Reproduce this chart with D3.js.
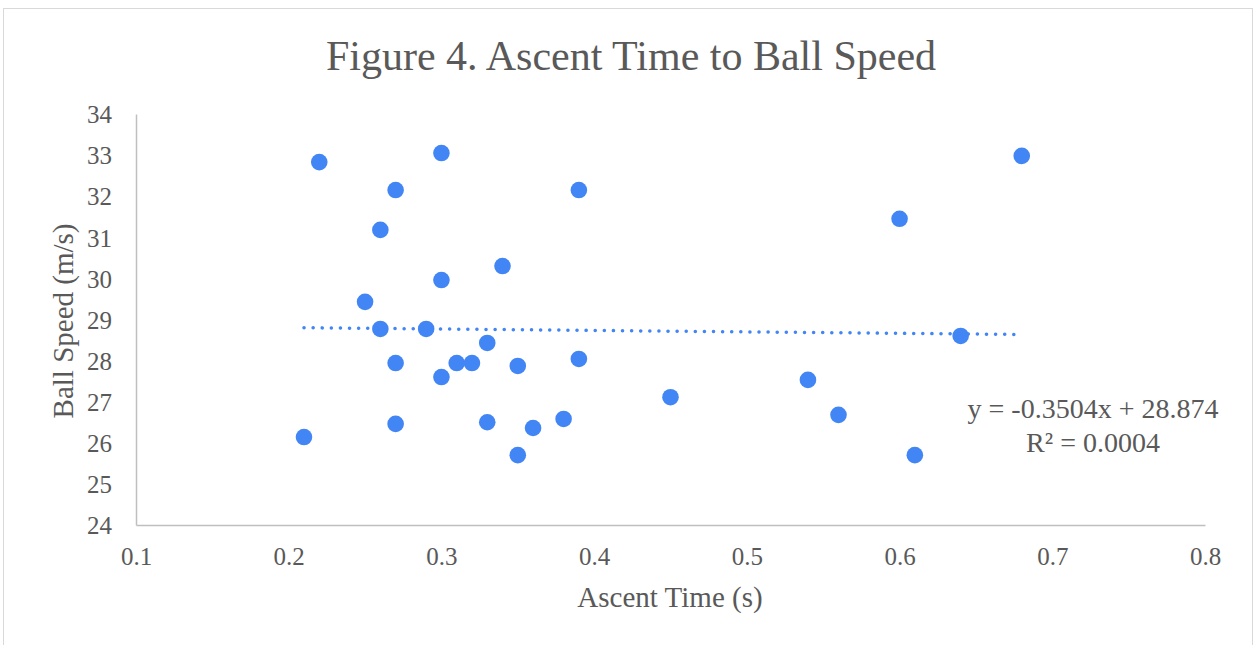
<!DOCTYPE html>
<html>
<head>
<meta charset="utf-8">
<script src="https://cdn.jsdelivr.net/npm/d3@7"></script>
<style>
  body { margin: 0; background: #fff; }
  svg { display: block; font-family: "Liberation Serif", "Times New Roman", serif; }
</style>
</head>
<body>
<script>
// ascent time (s) and ball speed (m/s)
const ascentTime = [0.21, 0.22, 0.25, 0.26, 0.26, 0.27, 0.27, 0.27, 0.29, 0.30,
                    0.30, 0.30, 0.31, 0.32, 0.33, 0.33, 0.34, 0.35, 0.35, 0.36,
                    0.38, 0.39, 0.39, 0.45, 0.54, 0.56, 0.60, 0.61, 0.64, 0.68];
const ballSpeed  = [26.14, 32.83, 29.43, 31.18, 28.77, 32.15, 27.94, 26.46, 28.77, 33.05,
                    29.96, 27.60, 27.94, 27.94, 28.43, 26.50, 30.30, 27.87, 25.70, 26.36,
                    26.58, 32.15, 28.04, 27.11, 27.53, 26.68, 31.45, 25.70, 28.60, 32.98];
const xTicks = [0.1, 0.2, 0.3, 0.4, 0.5, 0.6, 0.7, 0.8];
const yTicks = [24, 25, 26, 27, 28, 29, 30, 31, 32, 33, 34];
// linear trendline as printed on the chart
const slope = -0.3504, intercept = 28.874;
const trendLabel = ["y = -0.3504x + 28.874", "R² = 0.0004"];

const width = 1260, height = 645;
const margin = {top: 114, right: 55, bottom: 120, left: 136};
const textColor = "#595959", blue = "#4285f4";

const svg = d3.select("body").append("svg")
    .attr("width", width)
    .attr("height", height);

// outer frame
svg.append("rect")
    .attr("x", 3.5).attr("y", 8.5)
    .attr("width", 1249).attr("height", 650)
    .attr("fill", "none")
    .attr("stroke", "#d9d9d9");

const x = d3.scaleLinear().domain([0.1, 0.8]).range([margin.left, width - margin.right]);
const y = d3.scaleLinear().domain([24, 34]).range([height - margin.bottom, margin.top]);

svg.append("text")
    .attr("x", 631).attr("y", 70)
    .attr("text-anchor", "middle")
    .attr("fill", textColor)
    .style("font-size", "42px")
    .text("Figure 4. Ascent Time to Ball Speed");

// axes
const xAxis = svg.append("g")
    .attr("transform", `translate(0,${y(24)})`)
    .call(d3.axisBottom(x).tickValues(xTicks).tickSize(0).tickPadding(22).tickFormat(d3.format(".1f")));
const yAxis = svg.append("g")
    .attr("transform", `translate(${x(0.1)},0)`)
    .call(d3.axisLeft(y).tickValues(yTicks).tickSize(0).tickPadding(24));

[xAxis, yAxis].forEach(g => {
  g.select(".domain").attr("stroke", "#bfbfbf").attr("stroke-width", 1.5);
  g.selectAll("text")
      .attr("fill", textColor)
      .style("font-family", "Liberation Serif, serif")
      .style("font-size", "25px");
});
yAxis.selectAll("text").attr("dy", "0.35em");

svg.append("text")
    .attr("x", 670).attr("y", 607)
    .attr("text-anchor", "middle")
    .attr("fill", textColor)
    .style("font-size", "29px")
    .text("Ascent Time (s)");

svg.append("text")
    .attr("transform", "translate(63,321) rotate(-90)")
    .attr("text-anchor", "middle")
    .attr("dy", "0.35em")
    .attr("fill", textColor)
    .style("font-size", "29px")
    .text("Ball Speed (m/s)");

// points
svg.append("g")
  .selectAll("circle")
  .data(d3.range(ascentTime.length))
  .join("circle")
    .attr("cx", i => x(ascentTime[i]))
    .attr("cy", i => y(ballSpeed[i]))
    .attr("r", 8.3)
    .attr("fill", blue);

// dotted trendline across the data range
const [tx0, tx1] = d3.extent(ascentTime);
svg.append("line")
    .attr("x1", x(tx0)).attr("y1", y(slope * tx0 + intercept))
    .attr("x2", x(tx1)).attr("y2", y(slope * tx1 + intercept))
    .attr("stroke", blue)
    .attr("stroke-width", 3.5)
    .attr("stroke-linecap", "round")
    .attr("stroke-dasharray", "0.1 9");

svg.append("g")
    .attr("text-anchor", "middle")
    .attr("fill", textColor)
    .style("font-size", "28px")
  .selectAll("text")
  .data(trendLabel)
  .join("text")
    .attr("x", 1093)
    .attr("y", (d, i) => 418 + i * 34)
    .text(d => d);
</script>
</body>
</html>
